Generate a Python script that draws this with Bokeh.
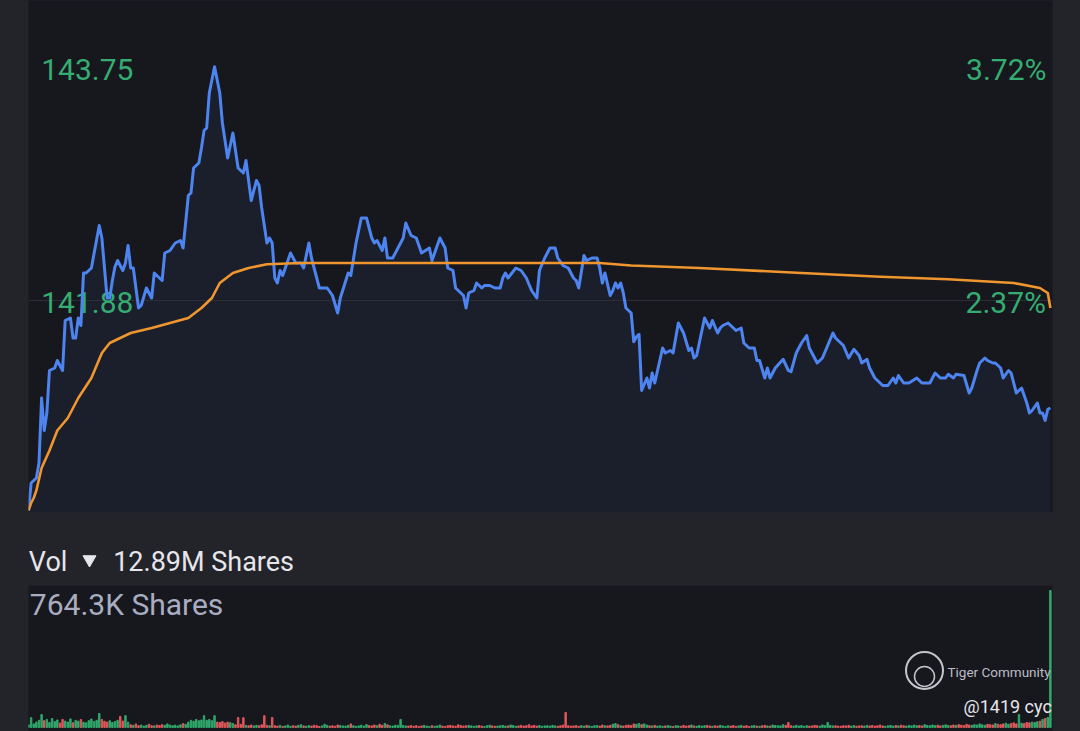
import numpy as np
from bokeh.plotting import figure
from bokeh.layouts import column
from bokeh.models import Range1d, GlobalInlineStyleSheet, Label
from bokeh.core.properties import value
from bokeh.embed import file_html
from bokeh.resources import INLINE

# ---------------- data ----------------
price_min = [0, 1, 3, 4, 5, 6, 7, 8, 10, 11, 13, 14, 16, 17, 18, 19, 20, 21, 22, 24,
             27, 28, 30, 31, 32, 33, 34, 36, 37, 38, 39, 40, 42, 43, 45, 47, 48, 50, 51, 52,
             54, 56, 58, 59, 61, 62, 63, 65, 66, 67, 68, 69, 71, 73, 74, 76, 78, 80, 82, 83,
             85, 87, 88, 89, 91, 92, 93, 94, 95, 96, 97, 100, 102, 104, 105, 107, 108, 111, 114, 116,
             118, 119, 122, 123, 125, 127, 129, 131, 132, 133, 135, 136, 137, 139, 143, 144, 146, 148, 150, 153,
             154, 155, 157, 159, 160, 162, 163, 166, 167, 168, 170, 171, 173, 174, 176, 178, 180, 181, 182, 183,
             186, 188, 190, 192, 194, 195, 197, 199, 201, 202, 204, 206, 208, 209, 210, 212, 213, 215, 217, 218,
             219, 220, 222, 223, 224, 225, 226, 227, 228, 230, 231, 232, 233, 234, 236, 237, 238, 239, 242, 243,
             245, 246, 248, 250, 252, 253, 254, 255, 258, 260, 261, 263, 264, 265, 267, 269, 270, 272, 273, 275,
             277, 278, 279, 281, 282, 283, 285, 288, 290, 291, 293, 295, 297, 298, 299, 301, 303, 305, 307, 308,
             310, 311, 313, 315, 317, 318, 320, 321, 323, 325, 326, 328, 330, 331, 332, 334, 336, 339, 341, 343,
             344, 346, 348, 350, 351, 353, 354, 357, 359, 360, 362, 363, 365, 366, 368, 369, 371, 372, 374, 375,
             376, 377, 379, 381, 382, 383, 385, 386, 387, 388, 389, 390]
price = [140.20, 140.42, 140.46, 140.58, 141.10, 140.84, 140.98, 141.32, 141.34, 141.40, 141.32, 141.72, 141.74, 141.58, 141.58, 141.74, 141.68, 142.10, 142.10, 142.14,
         142.48, 142.38, 141.90, 141.90, 142.04, 142.15, 142.20, 142.12, 142.18, 142.32, 142.14, 142.14, 141.82, 141.84, 141.98, 141.90, 142.10, 142.06, 142.04, 142.26,
         142.28, 142.34, 142.36, 142.30, 142.72, 142.74, 142.94, 142.98, 143.10, 143.24, 143.26, 143.54, 143.75, 143.54, 143.30, 143.02, 143.22, 142.94, 142.90, 143.00,
         142.68, 142.84, 142.80, 142.62, 142.34, 142.38, 142.34, 142.06, 142.02, 142.12, 142.08, 142.26, 142.18, 142.18, 142.14, 142.34, 142.22, 141.98, 141.98, 141.92,
         141.78, 141.90, 142.10, 142.08, 142.34, 142.54, 142.54, 142.38, 142.34, 142.36, 142.28, 142.38, 142.22, 142.22, 142.38, 142.50, 142.40, 142.38, 142.26, 142.30,
         142.20, 142.26, 142.38, 142.30, 142.14, 142.12, 141.98, 141.92, 141.82, 141.94, 141.96, 142.02, 141.98, 142.00, 142.00, 141.98, 141.98, 142.06, 142.10, 142.06,
         142.14, 142.12, 142.06, 141.96, 141.90, 142.12, 142.22, 142.30, 142.30, 142.22, 142.16, 142.14, 142.06, 142.04, 141.98, 142.24, 142.20, 142.22, 142.22, 142.14,
         142.02, 142.10, 141.92, 141.96, 142.02, 141.98, 142.02, 141.94, 141.82, 141.78, 141.55, 141.59, 141.61, 141.16, 141.26, 141.18, 141.30, 141.22, 141.50, 141.46,
         141.48, 141.46, 141.70, 141.62, 141.48, 141.50, 141.42, 141.44, 141.74, 141.66, 141.72, 141.62, 141.66, 141.68, 141.70, 141.66, 141.64, 141.66, 141.54, 141.50,
         141.50, 141.40, 141.40, 141.26, 141.34, 141.26, 141.34, 141.41, 141.32, 141.31, 141.46, 141.54, 141.60, 141.50, 141.46, 141.38, 141.42, 141.52, 141.62, 141.58,
         141.54, 141.52, 141.42, 141.49, 141.44, 141.38, 141.41, 141.34, 141.26, 141.22, 141.20, 141.20, 141.26, 141.22, 141.28, 141.22, 141.22, 141.26, 141.22, 141.22,
         141.22, 141.30, 141.26, 141.26, 141.29, 141.26, 141.29, 141.28, 141.14, 141.18, 141.32, 141.38, 141.42, 141.40, 141.38, 141.38, 141.34, 141.26, 141.32, 141.30,
         141.22, 141.14, 141.18, 141.06, 140.98, 141.00, 141.06, 140.98, 140.98, 140.92, 141.01, 141.02]

vwap_min = [0, 1, 2, 3, 5, 8, 11, 15, 19, 24, 28, 31, 39, 47, 54, 61, 66, 70, 73, 78,
            84, 91, 104, 161, 218, 230, 256, 295, 325, 351, 376, 386, 389, 390]
vwap = [140.20, 140.26, 140.30, 140.36, 140.54, 140.68, 140.84, 140.94, 141.10, 141.26,
        141.46, 141.54, 141.62, 141.66, 141.70, 141.74, 141.82, 141.90, 142.02, 142.10,
        142.14, 142.17, 142.18, 142.18, 142.18, 142.16, 142.14, 142.10, 142.07, 142.05,
        142.02, 141.98, 141.94, 141.82]

# per-minute volume, thousands of shares (minutes 0..390)
volume_k = [
    15, 55, 20, 30, 40, 72, 38, 45, 28, 50,
    33, 42, 25, 45, 36, 30, 48, 27, 40, 35,
    44, 30, 26, 38, 47, 33, 40, 78, 45, 35,
    30, 38, 28, 33, 40, 62, 36, 66, 30, 15,
    12, 20, 10, 14, 8, 12, 18, 10, 9, 14,
    11, 16, 12, 20, 14, 10, 13, 9, 15, 22,
    18, 30, 40, 35, 45, 38, 42, 66, 40, 45,
    38, 66, 30, 28, 33, 25, 30, 27, 22, 15,
    56, 18, 55, 12, 10, 14, 9, 12, 10, 15,
    66, 12, 10, 56, 10, 8, 12, 6, 9, 14,
    7, 10, 8, 12, 16, 9, 7, 11, 8, 13,
    10, 6, 9, 18, 12, 8, 10, 7, 14, 11,
    9, 8, 12, 20, 10, 7, 9, 13, 8, 16,
    11, 9, 14, 10, 18, 12, 22, 15, 10, 8,
    13, 12, 45, 12, 9, 8, 11, 7, 10, 6,
    9, 12, 8, 6, 10, 7, 9, 14, 8, 6,
    10, 12, 9, 7, 15, 11, 8, 10, 12, 9,
    7, 9, 11, 8, 6, 10, 13, 9, 7, 8,
    10, 12, 8, 9, 14, 11, 7, 9, 12, 8,
    10, 16, 9, 12, 8, 11, 7, 9, 10, 8,
    12, 9, 7, 10, 14, 84, 10, 8, 9, 11,
    7, 10, 8, 12, 9, 6, 10, 11, 8, 14,
    10, 9, 12, 18, 22, 16, 10, 8, 12, 14,
    11, 20, 18, 22, 16, 20, 14, 10, 9, 12,
    8, 10, 7, 9, 11, 8, 6, 10, 9, 7,
    12, 8, 10, 14, 9, 7, 11, 8, 10, 12,
    9, 7, 10, 8, 12, 9, 6, 10, 8, 11,
    7, 9, 12, 8, 10, 6, 9, 11, 8, 7,
    10, 12, 9, 8, 14, 11, 10, 9, 16, 12,
    28, 10, 8, 12, 9, 11, 7, 10, 8, 9,
    12, 10, 8, 14, 11, 28, 12, 9, 10, 8,
    7, 10, 9, 12, 8, 11, 7, 9, 10, 8,
    12, 9, 11, 8, 10, 14, 9, 7, 10, 12,
    8, 11, 9, 13, 10, 8, 12, 9, 14, 10,
    11, 9, 16, 12, 10, 14, 11, 13, 9, 12,
    15, 11, 10, 14, 12, 16, 13, 11, 18, 14,
    12, 16, 14, 20, 15, 13, 18, 16, 14, 22,
    18, 16, 20, 24, 18, 22, 26, 20, 72, 24,
    22, 28, 26, 30, 28, 32, 35, 45, 50, 56,
    764.3,
]

mid_price = 141.88
price_labels = ["143.75", "141.88"]
pct_labels = ["3.72%", "2.37%"]
vol_title = ["Vol", "12.89M Shares"]
vol_max_label = "764.3K Shares"
watermark = ["Tiger Community", "@1419 cyc"]

# ---------------- style ----------------
OUTER = "#23232a"
PANEL = "#17171e"
AREA = "#1b1f2c"
BLUE = "#4d84f0"
ORANGE = "#f0962e"
GREEN_T = "#35ad72"
UP = "#2fa86c"
DOWN = "#e0575a"
FONT = "Roboto"
SHIFT = 0.37   # baseline correction (fraction of font size) for the SVG backend

css = GlobalInlineStyleSheet(css="html,body{margin:0;padding:0;overflow:hidden;background:#23232a;}")


def base_fig(h, xr, yr):
    f = figure(width=1080, height=h, x_range=xr, y_range=yr, output_backend="svg",
               toolbar_location=None, x_axis_location=None, y_axis_location=None,
               min_border_left=28, min_border_right=28, min_border_top=0, min_border_bottom=0,
               background_fill_color=PANEL, border_fill_color=OUTER, outline_line_color=None)
    f.title.visible = False
    f.grid.grid_line_color = None
    return f


def txt(fig, xs, ys, texts, size, color, align="left"):
    fig.text(x=xs, y=[y - SHIFT * size for y in ys], text=texts,
             x_range_name="px", y_range_name="px",
             text_font=value(FONT), text_font_size=value(f"{size}px"), text_color=color,
             text_align=align, text_baseline="alphabetic")


# ---------------- price panel ----------------
xr = Range1d(0, 390.8)
p1 = base_fig(512, xr, Range1d(140.184, 144.28))
p1.extra_x_ranges = {"px": Range1d(28, 1052)}
p1.extra_y_ranges = {"px": Range1d(512, 0)}

p1.varea(x=price_min, y1=p1.y_range.start, y2=price, fill_color=AREA)
p1.hspan(y=[mid_price], line_color="#2c2d37", line_width=1)
txt(p1, [40.7, 40.7], [80, 313], price_labels, 30, GREEN_T, "left")
txt(p1, [1046, 1045.5], [80, 313], pct_labels, 30, GREEN_T, "right")
p1.line(price_min, price, line_color=BLUE, line_width=3, line_join="round")
p1.line(vwap_min, vwap, line_color=ORANGE, line_width=2.6, line_join="round")

# ---------------- volume header strip ----------------
p2 = base_fig(73, Range1d(28, 1052), Range1d(585, 512))
p2.background_fill_color = OUTER
p2.extra_x_ranges = {"px": Range1d(28, 1052)}
p2.extra_y_ranges = {"px": Range1d(585, 512)}
txt(p2, [28.3, 112.7], [571.7, 571.7], vol_title, 27, "#e6e6eb", "left")
p2.scatter(x=[89], y=[559], marker="inverted_triangle", size=13, color="#e6e6eb")

# ---------------- volume panel ----------------
p3 = base_fig(146, xr, Range1d(-22.3, 792.2))
p3.extra_x_ranges = {"px": Range1d(28, 1052)}
p3.extra_y_ranges = {"px": Range1d(731, 585)}

minutes = np.arange(len(volume_k))
interp_p = np.interp(minutes, price_min, price)
colors = [UP] + [UP if interp_p[i] >= interp_p[i - 1] else DOWN for i in range(1, len(minutes))]
p3.vbar(x=minutes, bottom=0, top=volume_k, width=0.55, color=colors)

txt(p3, [29.3], [615], [vol_max_label], 30, "#a9adc1", "left")
p3.scatter(x=[924], y=[670], x_range_name="px", y_range_name="px", marker="circle", size=37,
           fill_alpha=0, line_color="#c5c5cc", line_width=2)
p3.scatter(x=[924], y=[676], x_range_name="px", y_range_name="px", marker="circle", size=20,
           fill_alpha=0, line_color="#c5c5cc", line_width=1.5)
for t, x, y, s, c in [(watermark[0], 947, 676.5, 13.5, "#bdbdc5"), (watermark[1], 963, 713, 18, "#e5e5ea")]:
    p3.add_layout(Label(x=x, y=y - SHIFT * s, text=t, x_range_name="px", y_range_name="px",
                        text_font=FONT, text_font_size=f"{s}px", text_color=c,
                        text_align="left", text_baseline="alphabetic"))

layout = column(p1, p2, p3, spacing=0, stylesheets=[css])

open("out.html", "w").write(file_html(layout, INLINE))
